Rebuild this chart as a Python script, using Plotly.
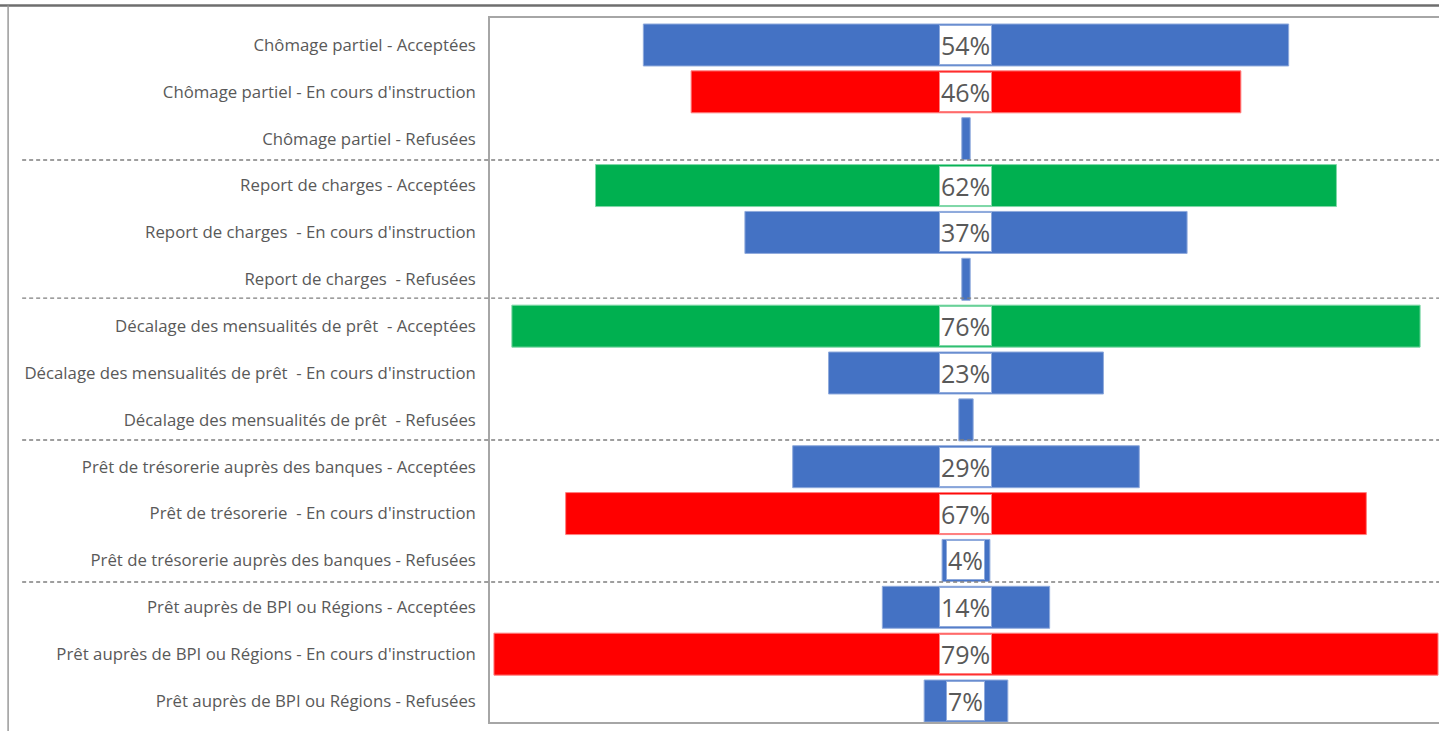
import plotly.graph_objects as go

# Rows, top to bottom
categories = [
    "Chômage partiel - Acceptées",
    "Chômage partiel - En cours d'instruction",
    "Chômage partiel - Refusées",
    "Report de charges - Acceptées",
    "Report de charges \u00a0- En cours d'instruction",
    "Report de charges \u00a0- Refusées",
    "Décalage des mensualités de prêt \u00a0- Acceptées",
    "Décalage des mensualités de prêt \u00a0- En cours d'instruction",
    "Décalage des mensualités de prêt \u00a0- Refusées",
    "Prêt de trésorerie auprès des banques - Acceptées",
    "Prêt de trésorerie \u00a0- En cours d'instruction",
    "Prêt de trésorerie auprès des banques - Refusées",
    "Prêt auprès de BPI ou Régions - Acceptées",
    "Prêt auprès de BPI ou Régions - En cours d'instruction",
    "Prêt auprès de BPI ou Régions - Refusées",
]
# Share of requests (%)
values = [54, 46, 0.7, 62, 37, 0.7, 76, 23, 1.2, 29, 67, 4, 14, 79, 7]
# Value labels shown in the centre ("" = not shown)
labels = ["54%", "46%", "", "62%", "37%", "", "76%", "23%", "",
          "29%", "67%", "4%", "14%", "79%", "7%"]
# Bar colour key per row
color_keys = ["blue", "red", "blue", "green", "blue", "blue", "green", "blue", "blue",
              "blue", "red", "blue", "blue", "red", "blue"]

FILL = {"blue": "#4472C4", "red": "#FF0000", "green": "#00B050"}
EDGE = {"blue": "#8FAADC", "red": "#FF8080", "green": "#80D8A8"}

fig = go.Figure()
fig.add_trace(go.Bar(
    y=categories,
    x=values,
    base=[-v / 2 for v in values],
    orientation="h",
    marker=dict(color=[FILL[c] for c in color_keys],
                line=dict(color=[EDGE[c] for c in color_keys], width=1)),
    hoverinfo="skip",
    showlegend=False,
))

# Value boxes centred on each bar
for cat, lab, ck in zip(categories, labels, color_keys):
    if not lab:
        continue
    fig.add_annotation(
        x=0, y=cat, xref="x", yref="y", text=lab, showarrow=False,
        font=dict(family="Open Sans", size=25, color="#595959"),
        bgcolor="white", bordercolor=EDGE[ck], borderwidth=1, borderpad=1,
        height=36, xanchor="center", yanchor="middle",
    )

# Dashed separators between the five measure groups
for b in [2.454, 5.40, 8.43, 11.46]:
    fig.add_shape(type="line", xref="paper", yref="y",
                  x0=-0.493, x1=1.0, y0=b, y1=b,
                  line=dict(color="#7f7f7f", width=1.3, dash="4px,3px"))

# Outer frame: top and left edges
fig.add_shape(type="line", xref="paper", yref="paper",
              x0=-0.52, x1=1.0, y0=1.0178, y1=1.0178,
              line=dict(color="#6e6e6e", width=2.5))
fig.add_shape(type="line", xref="paper", yref="paper",
              x0=-0.5078, x1=-0.5078, y0=-0.02, y1=1.0178,
              line=dict(color="#9a9a9a", width=1.5))

fig.update_layout(
    width=1439, height=731,
    margin=dict(l=490, r=0, t=18, b=9),
    paper_bgcolor="white", plot_bgcolor="white",
    bargap=0.104,
    xaxis=dict(range=[-39.83, 39.58], showgrid=False, zeroline=False,
               showticklabels=False, ticks="", showline=True, mirror=True,
               linecolor="#a6a6a6", linewidth=1.5, fixedrange=True),
    yaxis=dict(categoryorder="array", categoryarray=categories,
               range=[14.448, -0.576], showgrid=False, zeroline=False,
               showline=True, linecolor="#a6a6a6", linewidth=1.5,
               ticks="", ticklabelstandoff=9,
               tickfont=dict(family="Open Sans", size=16.8, color="#595959"),
               fixedrange=True),
)

fig.write_html("out.html", config={"displayModeBar": False})
